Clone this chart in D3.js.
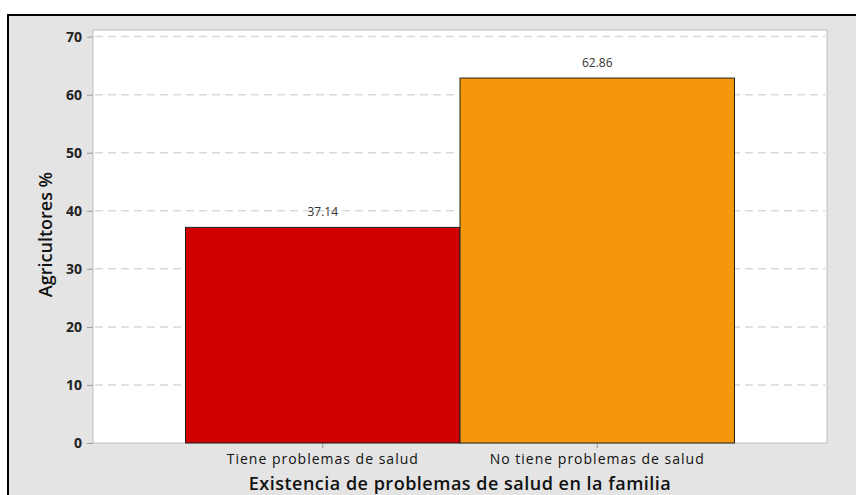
<!DOCTYPE html>
<html>
<head>
<meta charset="utf-8">
<script src="https://cdn.jsdelivr.net/npm/d3@7"></script>
<style>
  body { margin: 0; background: #fff; }
  svg { display: block; }
</style>
</head>
<body>
<svg id="chart" width="856" height="495"></svg>
<script>
const categories = ["Tiene problemas de salud", "No tiene problemas de salud"];
const values = [37.14, 62.86];
const barColors = ["#d00000", "#f5970a"];
const yTicks = [0, 10, 20, 30, 40, 50, 60, 70];

const svg = d3.select("#chart");
const font = "'Open Sans', 'Noto Sans', sans-serif";

// outer frame
svg.append("rect")
    .attr("x", 8).attr("y", 15)
    .attr("width", 860).attr("height", 500)
    .attr("fill", "#e4e4e4")
    .attr("stroke", "#000")
    .attr("stroke-width", 2);

const m = { left: 93, top: 30, right: 827, bottom: 443 };

const x = d3.scaleBand()
    .domain(categories)
    .range([m.left, m.right])
    .paddingInner(0)
    .paddingOuter(0.337);

const y = d3.scaleLinear()
    .domain([0, 70])
    .range([m.bottom, 36.6]);

svg.append("rect")
    .attr("x", m.left).attr("y", m.top)
    .attr("width", m.right - m.left).attr("height", m.bottom - m.top)
    .attr("fill", "#fff")
    .attr("stroke", "#bdbdbd");

// gridlines
svg.append("g")
    .selectAll("line")
    .data(yTicks.filter(d => d > 0))
    .enter()
    .append("line")
    .attr("x1", m.left + 2).attr("x2", m.right - 2)
    .attr("y1", d => y(d)).attr("y2", d => y(d))
    .attr("stroke", "#d9d9d9")
    .attr("stroke-width", 1.5)
    .attr("stroke-dasharray", "8,5");

// y axis
const yAxis = svg.append("g")
    .attr("transform", `translate(${m.left},0)`)
    .call(d3.axisLeft(y).tickValues(yTicks).tickSize(6).tickPadding(5));
yAxis.select(".domain").remove();
yAxis.selectAll(".tick line").attr("stroke", "#999");
yAxis.selectAll(".tick text")
    .attr("font-family", font)
    .attr("font-size", 14)
    .attr("font-weight", "bold")
    .attr("fill", "#222");

// x axis
const xAxis = svg.append("g")
    .attr("transform", `translate(0,${m.bottom})`)
    .call(d3.axisBottom(x).tickSize(5).tickPadding(6));
xAxis.select(".domain").remove();
xAxis.selectAll(".tick line").attr("stroke", "#999");
xAxis.selectAll(".tick text")
    .attr("font-family", font)
    .attr("font-size", 14)
    .attr("font-weight", 500)
    .attr("letter-spacing", "1px")
    .attr("fill", "#111");

// bars
svg.selectAll("rect.bar")
    .data(values)
    .enter()
    .append("rect")
    .attr("class", "bar")
    .attr("x", (d, i) => x(categories[i]))
    .attr("y", d => y(d))
    .attr("width", x.bandwidth())
    .attr("height", d => y(0) - y(d))
    .attr("fill", (d, i) => barColors[i])
    .attr("stroke", "#222")
    .attr("stroke-width", 1);

svg.selectAll("text.label")
    .data(values)
    .enter()
    .append("text")
    .attr("class", "label")
    .attr("x", (d, i) => x(categories[i]) + x.bandwidth() / 2)
    .attr("y", d => y(d) - 11)
    .attr("text-anchor", "middle")
    .attr("font-family", font)
    .attr("font-size", 12)
    .attr("fill", "#333")
    .text(d => d.toFixed(2));

// titles
svg.append("text")
    .attr("x", (m.left + m.right) / 2)
    .attr("y", 490)
    .attr("text-anchor", "middle")
    .attr("font-family", font)
    .attr("font-size", 18)
    .attr("font-weight", 600)
    .attr("letter-spacing", "0.5px")
    .attr("fill", "#111")
    .text("Existencia de problemas de salud en la familia");

svg.append("text")
    .attr("transform", `translate(52,${(m.top + m.bottom) / 2 - 2}) rotate(-90)`)
    .attr("text-anchor", "middle")
    .attr("font-family", font)
    .attr("font-size", 18)
    .attr("font-weight", 600)
    .attr("fill", "#111")
    .text("Agricultores %");
</script>
</body>
</html>
